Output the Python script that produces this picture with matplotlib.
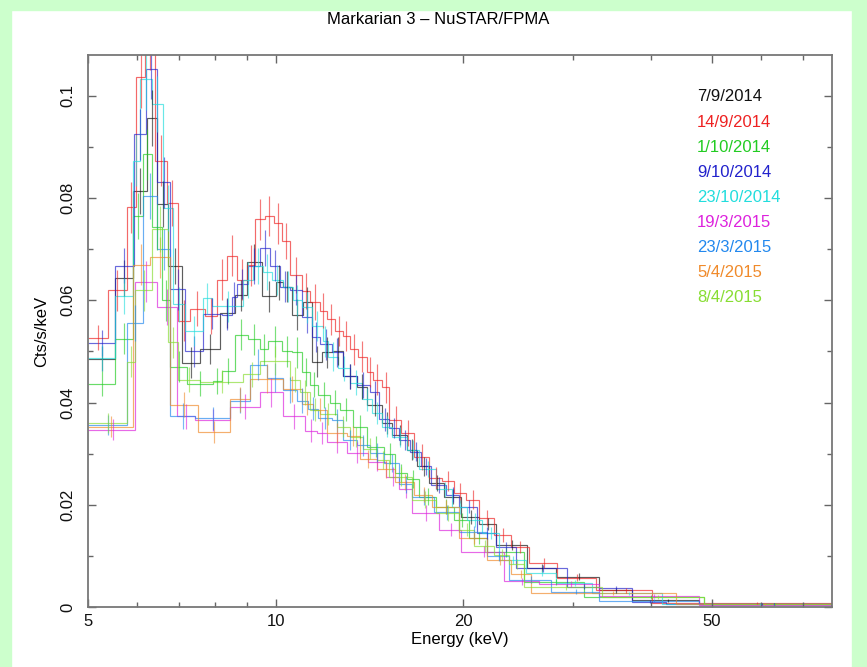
import numpy as np
import matplotlib
matplotlib.use('Agg')
import matplotlib.pyplot as plt
from matplotlib.ticker import FixedLocator, FixedFormatter, NullFormatter
from matplotlib.patches import Rectangle

plt.rcParams['font.family'] = ['Liberation Sans', 'DejaVu Sans']

# observation dates and plot colours (xspec-like palette)
dates = ['7/9/2014', '14/9/2014', '1/10/2014', '9/10/2014', '23/10/2014',
         '19/3/2015', '23/3/2015', '5/4/2015', '8/4/2015']
colors = ['#111111', '#ee2222', '#22cc22', '#2222cc', '#22dddd',
          '#dd22dd', '#2288ee', '#f08a2a', '#88dd33']

# --- spectra: bin edges (keV), rate (cts/s/keV), 1-sigma error ---
edges_0709 = [5.00, 5.52, 5.90, 6.22, 6.45, 6.72, 7.07, 7.56, 8.13, 8.60, 8.99, 9.50, 10.0,
              10.26, 10.61, 11.05, 11.42, 11.85, 12.34, 12.80, 13.48, 13.99, 14.83, 15.39,
              16.21, 16.88, 17.64, 18.64, 19.85, 21.21, 22.58, 25.32, 28.17, 33.01, 37.29,
              47.73, 78.0]
rate_0709 = [0.0486, 0.0643, 0.0814, 0.0957, 0.0788, 0.0667, 0.0478, 0.0505, 0.0575, 0.0610,
             0.0675, 0.0608, 0.0635, 0.0627, 0.0572, 0.0596, 0.0480, 0.0498, 0.0501, 0.0451,
             0.0431, 0.0396, 0.0360, 0.0337, 0.0308, 0.0275, 0.0243, 0.0216, 0.0176, 0.0163,
             0.0122, 0.0076, 0.0059, 0.0033, 0.0013, 0.0005]
err_0709 = [0.0025, 0.0035, 0.0045, 0.0055, 0.0045, 0.0035, 0.003, 0.003, 0.003, 0.003,
            0.0035, 0.003, 0.0035, 0.003, 0.003, 0.003, 0.003, 0.003, 0.0028, 0.0025,
            0.0025, 0.0022, 0.0022, 0.002, 0.002, 0.0018, 0.0016, 0.0015, 0.0013, 0.0012,
            0.001, 0.0008, 0.0007, 0.0005, 0.0003, 0.0002]

edges_1409 = [5.00, 5.38, 5.77, 5.97, 6.17, 6.40, 6.69, 6.97, 7.28, 7.70, 8.05, 8.35, 8.66,
              8.99, 9.26, 9.60, 9.93, 10.22, 10.53, 11.01, 11.33, 11.76, 12.07, 12.43, 12.80,
              13.14, 13.53, 13.99, 14.30, 14.78, 15.22, 15.91, 16.69, 17.64, 18.51, 19.34,
              20.22, 21.21, 22.42, 23.87, 25.51, 28.28, 32.65, 40.14, 78.0]
rate_1409 = [0.0527, 0.0620, 0.0782, 0.1037, 0.1120, 0.0873, 0.0790, 0.0560, 0.0584, 0.0570,
             0.0640, 0.0687, 0.0640, 0.0669, 0.0759, 0.0765, 0.0751, 0.0716, 0.0650, 0.0618,
             0.0596, 0.0580, 0.0563, 0.0540, 0.0530, 0.0504, 0.0490, 0.0460, 0.0445, 0.0430,
             0.0365, 0.0340, 0.0294, 0.0252, 0.0246, 0.0223, 0.0210, 0.0174, 0.0141, 0.0118,
             0.0086, 0.0057, 0.0033, 0.0008]
err_1409 = [0.0025, 0.004, 0.005, 0.006, 0.007, 0.005, 0.0045, 0.004, 0.0035, 0.0035,
            0.004, 0.004, 0.004, 0.004, 0.004, 0.004, 0.004, 0.0035, 0.0035, 0.0035,
            0.0035, 0.0035, 0.003, 0.003, 0.003, 0.003, 0.003, 0.003, 0.003, 0.003,
            0.0028, 0.0025, 0.0025, 0.0022, 0.002, 0.002, 0.0018, 0.0016, 0.0014, 0.0012,
            0.001, 0.0007, 0.0005, 0.0002]

edges_0110 = [5.00, 5.52, 5.90, 6.12, 6.33, 6.57, 6.77, 7.20, 7.93, 8.19, 8.60, 9.02, 9.43,
              9.71, 10.22, 10.61, 11.01, 11.33, 11.67, 12.20, 12.66, 13.28, 13.99, 14.94,
              15.51, 16.21, 17.00, 18.10, 19.34, 20.44, 21.85, 25.04, 31.23, 48.62, 78.0]
rate_0110 = [0.0437, 0.0525, 0.0765, 0.0886, 0.0743, 0.0600, 0.0470, 0.0437, 0.0442, 0.0462,
             0.0533, 0.0524, 0.0504, 0.0520, 0.0500, 0.0498, 0.0460, 0.0435, 0.0415, 0.0400,
             0.0386, 0.0353, 0.0314, 0.0300, 0.0262, 0.0250, 0.0216, 0.0196, 0.0170, 0.0135,
             0.0108, 0.0049, 0.0020, 0.0005]
err_0110 = [0.0025, 0.003, 0.0045, 0.005, 0.0045, 0.004, 0.003, 0.0025, 0.0025, 0.0025,
            0.003, 0.003, 0.003, 0.003, 0.003, 0.003, 0.0028, 0.0025, 0.0025, 0.0025,
            0.0022, 0.0022, 0.002, 0.002, 0.0018, 0.0018, 0.0016, 0.0015, 0.0013, 0.0012,
            0.001, 0.0006, 0.0004, 0.0002]

edges_0910 = [5.00, 5.52, 5.92, 6.19, 6.45, 6.77, 7.15, 7.64, 8.19, 8.50, 8.66, 9.02, 9.43,
              9.78, 10.15, 10.53, 11.01, 11.42, 11.76, 12.29, 12.80, 13.48, 14.14, 14.67,
              15.22, 15.79, 16.39, 17.13, 17.77, 18.78, 19.70, 21.06, 22.58, 24.31, 29.34,
              33.01, 37.29, 42.27, 78.0]
rate_0910 = [0.0516, 0.0668, 0.0925, 0.1053, 0.0831, 0.0622, 0.0500, 0.0574, 0.0572, 0.0606,
             0.0632, 0.0667, 0.0702, 0.0668, 0.0627, 0.0620, 0.0567, 0.0528, 0.0514, 0.0498,
             0.0451, 0.0434, 0.0420, 0.0367, 0.0350, 0.0327, 0.0304, 0.0275, 0.0239, 0.0220,
             0.0196, 0.0145, 0.0118, 0.0076, 0.0040, 0.0037, 0.0010, 0.0005]
err_0910 = [0.0025, 0.0035, 0.005, 0.006, 0.005, 0.004, 0.003, 0.003, 0.003, 0.003,
            0.003, 0.0035, 0.0035, 0.003, 0.003, 0.003, 0.003, 0.003, 0.003, 0.0028,
            0.0025, 0.0025, 0.0022, 0.0022, 0.002, 0.002, 0.0018, 0.0016, 0.0015, 0.0014,
            0.0013, 0.0011, 0.001, 0.0007, 0.0005, 0.0004, 0.0003, 0.0002]

edges_2310 = [5.00, 5.52, 5.90, 6.06, 6.33, 6.59, 6.84, 7.15, 7.64, 7.89, 8.86, 9.19, 9.53,
              9.85, 10.26, 10.65, 11.01, 11.42, 11.89, 12.11, 12.57, 13.14, 13.73, 14.25,
              14.78, 15.39, 16.21, 17.00, 18.10, 19.20, 20.30, 21.45, 22.84, 25.23, 28.17,
              32.17, 41.63, 78.0]
rate_2310 = [0.0487, 0.0608, 0.0873, 0.1033, 0.0984, 0.0780, 0.0592, 0.0540, 0.0604, 0.0588,
             0.0640, 0.0667, 0.0655, 0.0640, 0.0627, 0.0600, 0.0586, 0.0550, 0.0520, 0.0490,
             0.0467, 0.0439, 0.0406, 0.0380, 0.0353, 0.0333, 0.0308, 0.0270, 0.0230, 0.0196,
             0.0170, 0.0145, 0.0092, 0.0066, 0.0047, 0.0027, 0.0005]
err_2310 = [0.0025, 0.0035, 0.005, 0.006, 0.0055, 0.0045, 0.0035, 0.003, 0.003, 0.003,
            0.0035, 0.0035, 0.0035, 0.003, 0.003, 0.003, 0.003, 0.003, 0.003, 0.0028,
            0.0025, 0.0025, 0.0022, 0.0022, 0.002, 0.002, 0.0018, 0.0016, 0.0015, 0.0014,
            0.0013, 0.0011, 0.0008, 0.0006, 0.0005, 0.0003, 0.0002]

edges_1903 = [5.00, 5.95, 6.45, 6.94, 7.42, 8.44, 9.43, 10.26, 11.13, 11.63, 12.07, 12.99,
              14.04, 15.05, 15.79, 16.57, 18.30, 19.85, 23.26, 26.46, 33.01, 47.73, 78.0]
rate_1903 = [0.0347, 0.0636, 0.0587, 0.0373, 0.0366, 0.0392, 0.0420, 0.0373, 0.0345, 0.0340,
             0.0322, 0.0302, 0.0284, 0.0255, 0.0230, 0.0184, 0.0151, 0.0108, 0.0050, 0.0045,
             0.0022, 0.0004]
err_1903 = [0.002, 0.004, 0.0035, 0.0025, 0.0022, 0.0025, 0.0028, 0.0025, 0.0022, 0.0022,
            0.002, 0.002, 0.0018, 0.0018, 0.0016, 0.0015, 0.0013, 0.0011, 0.0007, 0.0006,
            0.0004, 0.0002]

edges_2303 = [5.00, 5.77, 6.12, 6.45, 6.77, 7.42, 8.44, 9.09, 9.67, 10.26, 10.80, 11.25,
              11.67, 12.29, 12.80, 13.48, 14.14, 14.94, 15.79, 16.57, 17.97, 19.70, 21.85,
              23.69, 27.67, 33.01, 47.73, 78.0]
rate_2303 = [0.0356, 0.0555, 0.0804, 0.0700, 0.0374, 0.0369, 0.0404, 0.0474, 0.0449, 0.0425,
             0.0404, 0.0388, 0.0370, 0.0365, 0.0327, 0.0316, 0.0302, 0.0282, 0.0240, 0.0215,
             0.0185, 0.0146, 0.0100, 0.0053, 0.0030, 0.0012, 0.0005]
err_2303 = [0.002, 0.0035, 0.0045, 0.004, 0.0025, 0.0022, 0.0025, 0.003, 0.0028, 0.0025,
            0.0025, 0.0022, 0.0022, 0.0022, 0.002, 0.002, 0.0018, 0.0018, 0.0016, 0.0015,
            0.0014, 0.0012, 0.001, 0.0007, 0.0005, 0.0003, 0.0002]

edges_0504 = [5.00, 5.90, 6.28, 6.77, 7.50, 8.44, 9.09, 10.26, 11.01, 11.46, 12.07, 12.99,
              13.63, 14.51, 15.51, 16.69, 17.84, 19.70, 21.85, 23.87, 25.69, 43.84, 78.0]
rate_0504 = [0.0353, 0.0670, 0.0684, 0.0396, 0.0342, 0.0406, 0.0447, 0.0427, 0.0398, 0.0386,
             0.0340, 0.0335, 0.0290, 0.0270, 0.0245, 0.0220, 0.0196, 0.0135, 0.0092, 0.0065,
             0.0028, 0.0005]
err_0504 = [0.002, 0.004, 0.004, 0.0025, 0.0022, 0.0025, 0.0028, 0.0025, 0.0022, 0.0022,
            0.002, 0.002, 0.0018, 0.0018, 0.0016, 0.0015, 0.0014, 0.0011, 0.0009, 0.0008,
            0.0004, 0.0002]

edges_0804 = [5.00, 5.77, 5.95, 6.33, 6.72, 6.97, 7.56, 8.86, 9.43, 10.53, 10.92, 11.33,
              11.76, 12.52, 13.14, 13.78, 14.52, 15.22, 16.57, 18.10, 19.70, 20.83, 22.42,
              23.69, 25.04, 33.38, 48.62, 78.0]
rate_0804 = [0.0360, 0.0480, 0.0620, 0.0740, 0.0518, 0.0445, 0.0441, 0.0455, 0.0482, 0.0445,
             0.0420, 0.0386, 0.0378, 0.0353, 0.0333, 0.0310, 0.0288, 0.0255, 0.0210, 0.0184,
             0.0151, 0.0120, 0.0102, 0.0084, 0.0039, 0.0020, 0.0005]
err_0804 = [0.002, 0.003, 0.004, 0.0045, 0.003, 0.0025, 0.0022, 0.0025, 0.0028, 0.0025,
            0.0025, 0.0022, 0.0022, 0.002, 0.002, 0.002, 0.0018, 0.0018, 0.0016, 0.0015,
            0.0013, 0.0012, 0.0011, 0.001, 0.0006, 0.0004, 0.0002]

spectra = [(edges_0709, rate_0709, err_0709), (edges_1409, rate_1409, err_1409),
           (edges_0110, rate_0110, err_0110), (edges_0910, rate_0910, err_0910),
           (edges_2310, rate_2310, err_2310), (edges_1903, rate_1903, err_1903),
           (edges_2303, rate_2303, err_2303), (edges_0504, rate_0504, err_0504),
           (edges_0804, rate_0804, err_0804)]

fig = plt.figure(figsize=(8.67, 6.67), dpi=100)

# pale green frame around the page
frame = '#ccffcc'
fig.patches.append(Rectangle((0, 0), 11/867, 1, transform=fig.transFigure, color=frame, zorder=0))
fig.patches.append(Rectangle((852/867, 0), 15/867, 1, transform=fig.transFigure, color=frame, zorder=0))
fig.patches.append(Rectangle((0, 1-10/667), 1, 10/667, transform=fig.transFigure, color=frame, zorder=0))

ax = fig.add_axes([88/867, 60/667, 744/867, 552/667])

for (e, r, er), c in zip(spectra, colors):
    e = np.array(e)
    r = np.array(r)
    er = np.array(er)
    ax.stairs(r, e, baseline=None, color=c, lw=0.85, alpha=0.68)
    mid = 0.5*(e[:-1] + e[1:])
    ax.vlines(mid, r-er, r+er, color=c, lw=0.85, alpha=0.6)

ax.set_xscale('log')
ax.set_xlim(5, 78)
ax.set_ylim(0, 0.108)

ax.xaxis.set_major_locator(FixedLocator([5, 10, 20, 50]))
ax.xaxis.set_major_formatter(FixedFormatter(['5', '10', '20', '50']))
ax.xaxis.set_minor_locator(FixedLocator([6, 7, 8, 9, 30, 40, 60, 70]))
ax.xaxis.set_minor_formatter(NullFormatter())
ax.set_yticks([0, 0.02, 0.04, 0.06, 0.08, 0.1])
ax.set_yticklabels(['0', '0.02', '0.04', '0.06', '0.08', '0.1'], rotation=90, va='center')
ax.set_yticks([0.01, 0.03, 0.05, 0.07, 0.09], minor=True)

ax.tick_params(which='both', direction='in', top=True, right=True, color='#666666',
               labelsize=12, labelcolor='#111111', width=1.0)
ax.tick_params(which='major', length=6)
ax.tick_params(which='minor', length=3.5)
ax.tick_params(axis='y', pad=9)
ax.tick_params(axis='x', pad=5)
for s in ax.spines.values():
    s.set_color('#777777')
    s.set_linewidth(1.3)

ax.set_xlabel('Energy (keV)', fontsize=12, labelpad=2)
ax.set_ylabel('Cts/s/keV', fontsize=12, labelpad=8)
fig.text(0.505, 1-19/667, 'Markarian 3 \u2013 NuSTAR/FPMA', ha='center', va='center', fontsize=12)

# date labels in plot colours
for i, (d, c) in enumerate(zip(dates, colors)):
    ax.text(0.8185, 0.924 - i*0.0455, d, color=c, fontsize=12, transform=ax.transAxes,
            ha='left', va='center')

fig.savefig('out.png', dpi=100)
